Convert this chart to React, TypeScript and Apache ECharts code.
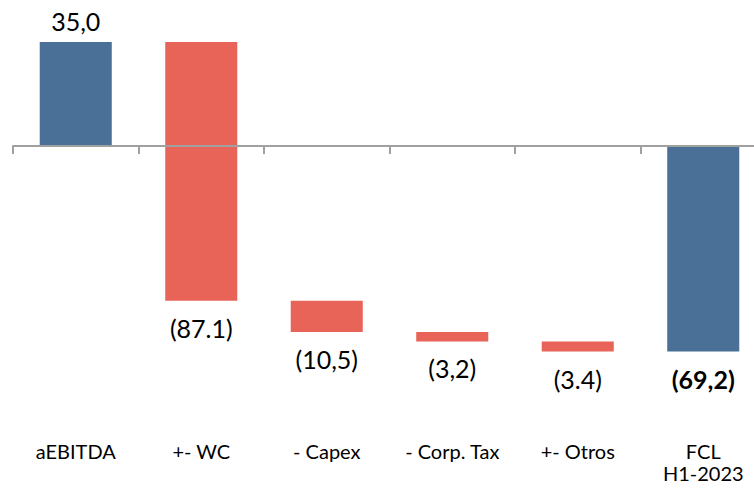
import React, { useEffect, useRef } from "react";
import * as echarts from "echarts";

const categories = ["aEBITDA", "+- WC", "- Capex", "- Corp. Tax", "+- Otros", "FCL\nH1-2023"];
const values = [35.0, -87.1, -10.5, -3.2, -3.4, -69.2];
const valueLabels = ["35,0", "(87.1)", "(10,5)", "(3,2)", "(3.4)", "(69,2)"];
const isTotal = [true, false, false, false, false, true];

const BLUE = "#4A7097";
const RED = "#E86358";
const AXIS_GRAY = "#A0A0A0";
const FONT = "Lato, 'Open Sans', sans-serif";

export default function App() {
  const ref = useRef<HTMLDivElement>(null);
  useEffect(() => {
    if (!ref.current) return;
    const chart = echarts.init(ref.current, null, { renderer: "svg" });

    let running = 0;
    const rows = values.map((v, i) => {
      let start: number;
      let end: number;
      if (isTotal[i]) {
        start = 0;
        end = v;
        running = v;
      } else {
        start = running;
        end = running + v;
        running = end;
      }
      return [i, start, end, isTotal[i] ? 1 : 0, v];
    });

    chart.setOption({
      animation: false,
      grid: {
        left: 13,
        right: -12,
        top: 42,
        height: 309.6,
        containLabel: false,
        outerBoundsMode: "none",
      },
      xAxis: [
        {
          type: "category",
          data: categories,
          z: 10,
          axisLine: { onZero: true, lineStyle: { color: AXIS_GRAY, width: 2 } },
          axisTick: { show: true, length: 8, lineStyle: { color: AXIS_GRAY, width: 2 } },
          axisLabel: { show: false },
          splitLine: { show: false },
        },
        {
          type: "category",
          data: categories,
          position: "bottom",
          axisLine: { show: false, onZero: false },
          axisTick: { show: false },
          axisLabel: {
            show: true,
            interval: 0,
            margin: 88,
            fontSize: 20,
            lineHeight: 22,
            color: "#000",
            fontFamily: FONT,
          },
          splitLine: { show: false },
        },
      ],
      yAxis: {
        type: "value",
        min: -69.2,
        max: 35,
        show: false,
        splitLine: { show: false },
      },
      series: [
        {
          type: "custom",
          xAxisIndex: 0,
          z: 2,
          clip: false,
          encode: { x: 0, y: [1, 2] },
          data: rows,
          renderItem: (params: any, api: any) => {
            const idx = api.value(0);
            const s = api.value(1);
            const e = api.value(2);
            const total = api.value(3) === 1;
            const v = api.value(4);
            const top = api.coord([idx, Math.max(s, e)]);
            const bot = api.coord([idx, Math.min(s, e)]);
            const w = api.size([1, 0])[0] * 0.574;
            const ty = v >= 0 ? top[1] - 21 : bot[1] + 27;
            return {
              type: "group",
              children: [
                {
                  type: "rect",
                  shape: { x: top[0] - w / 2, y: top[1], width: w, height: bot[1] - top[1] },
                  style: { fill: total ? BLUE : RED },
                },
                {
                  type: "text",
                  x: top[0],
                  y: ty,
                  style: {
                    text: valueLabels[params.dataIndex],
                    fill: "#000",
                    fontSize: 25,
                    fontFamily: FONT,
                    fontWeight: params.dataIndex === values.length - 1 ? "bold" : "normal",
                    align: "center",
                    verticalAlign: "middle",
                  },
                },
              ],
            };
          },
        },
      ],
    });
    return () => chart.dispose();
  }, []);
  return (
    <div
      ref={ref}
      style={{ position: "fixed", left: 0, top: 0, width: 754, height: 492, background: "#fff" }}
    />
  );
}
